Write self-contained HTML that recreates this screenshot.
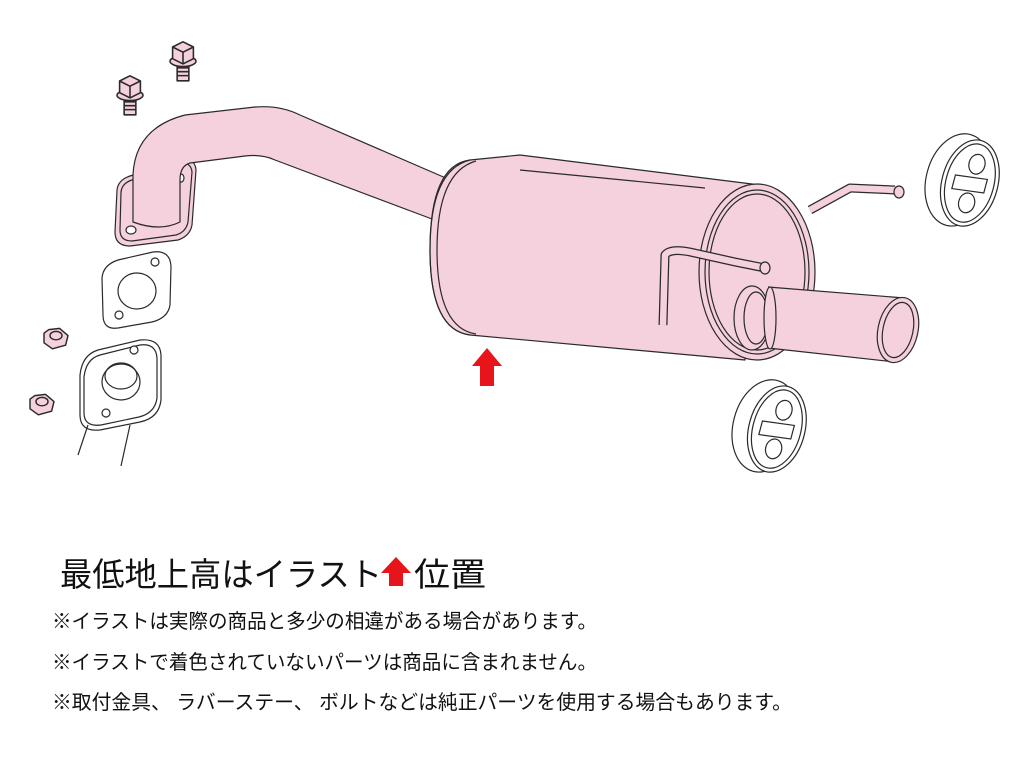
<!DOCTYPE html>
<html><head><meta charset="utf-8"><style>
html,body{margin:0;padding:0;background:#fff;width:1024px;height:768px;overflow:hidden}
svg{display:block}
text{font-family:"Liberation Sans","Noto Sans CJK JP",sans-serif;fill:#111}
</style></head><body>
<svg width="1024" height="768" viewBox="0 0 1024 768">
<g stroke="#2a2a2a" stroke-width="1.2" fill="#f5d0dd" stroke-linejoin="round">
<!-- bolts -->
<g transform="translate(183,60) scale(1.3)"><rect x="-4.5" y="2" width="9" height="14"/><path d="M-4.5,6h9M-4.5,9h9M-4.5,12h9" fill="none"/><ellipse cx="0" cy="1" rx="10" ry="4"/><path d="M-8,-10 L0,-14 L8,-10 L8,-1 L0,3 L-8,-1Z"/><path d="M-8,-10 L0,-6 L8,-10 M0,-6 L0,3" fill="none"/></g>
<g transform="translate(130,94) scale(1.3)"><rect x="-4.5" y="2" width="9" height="14"/><path d="M-4.5,6h9M-4.5,9h9M-4.5,12h9" fill="none"/><ellipse cx="0" cy="1" rx="10" ry="4"/><path d="M-8,-10 L0,-14 L8,-10 L8,-1 L0,3 L-8,-1Z"/><path d="M-8,-10 L0,-6 L8,-10 M0,-6 L0,3" fill="none"/></g>
<!-- nuts -->
<g transform="translate(56,338) scale(1.2)"><path d="M-10,-4 L-10,4 L-3,9 L8,6 L10,-2 L3,-8 L-6,-7Z"/><ellipse cx="0" cy="-2" rx="5" ry="3.5"/></g>
<g transform="translate(42,404) scale(1.2)"><path d="M-10,-4 L-10,4 L-3,9 L8,6 L10,-2 L3,-8 L-6,-7Z"/><ellipse cx="0" cy="-2" rx="5" ry="3.5"/></g>
<!-- flange -->
<path d="M117,190 Q118,180 130,176 L180,160 Q195,157 196,170 L192,225 Q190,236 178,240 L130,246 Q115,246 115,232Z"/>
<path d="M121,192 Q122,183 132,180 L178,164 Q191,161 192,172 L188,222 Q186,232 176,235 L132,241 Q120,241 120,230Z" fill="none"/>
<ellipse cx="131" cy="230" rx="5" ry="4" fill="#fff"/>
<ellipse cx="181" cy="178" rx="3" ry="4" fill="#fff"/>
<!-- pipe -->
<path d="M133,222 L133,175 Q135,128 185,115 L255,107 Q280,105 300,115 L455,182 L440,222 L275,160 Q262,154 245,156 L190,163 Q180,166 180,180 L180,222 Q160,232 133,222Z"/>
<!-- muffler body -->
<path d="M470,160 L520,155 L760,185 L745,360 L470,335 Q430,330 430,250 Q430,165 470,160Z"/>
<path d="M520,170 L705,188" fill="none"/>
<path d="M470,160 Q430,170 430,250 Q430,330 470,335" fill="none"/>
<path d="M476,161 Q437,172 437,250 Q437,328 476,334" fill="none"/>
<!-- rear hanger -->
<path d="M810,210 L850,188 L895,190" fill="none" stroke-width="9"/>
<path d="M810,210 L850,188 L895,190" fill="none" stroke="#f5d0dd" stroke-width="6.5"/>
<!-- end cap -->
<ellipse cx="757" cy="272" rx="58" ry="88"/>
<ellipse cx="757" cy="272" rx="52" ry="82" fill="none"/>
<ellipse cx="757" cy="272" rx="48" ry="78" fill="none"/>
<ellipse cx="899" cy="192" rx="5" ry="6"/>
<!-- front hanger on cap -->
<path d="M663,325 L665,255 Q670,248 690,252 L735,262 L765,268" fill="none" stroke-width="9"/>
<path d="M663,325 L665,255 Q670,248 690,252 L735,262 L765,268" fill="none" stroke="#f5d0dd" stroke-width="6.5"/>
<ellipse cx="765" cy="268" rx="5" ry="6"/>
<!-- tailpipe -->
<ellipse cx="752" cy="318" rx="18" ry="32"/>
<ellipse cx="756" cy="318" rx="12" ry="26"/>
<path d="M768,287 L905,298 L895,362 L768,348Z" stroke="none"/>
<path d="M768,287 L905,298 M768,348 L895,362" fill="none"/>
<ellipse cx="770" cy="318" rx="6" ry="31"/>
<ellipse cx="898" cy="330" rx="20" ry="33" transform="rotate(12 898 330)"/>
<ellipse cx="898" cy="330" rx="15" ry="28" transform="rotate(12 898 330)"/>
</g>
<!-- gaskets (uncolored) -->
<g stroke="#2a2a2a" stroke-width="1.2" fill="#fff">
<path d="M102,278 Q103,265 118,260 L153,252 Q170,250 171,266 L170,305 Q168,318 152,322 L118,328 Q103,330 103,315Z"/>
<ellipse cx="137" cy="291" rx="19" ry="18" fill="none"/>
<ellipse cx="155" cy="262" rx="4" ry="4"/><ellipse cx="119" cy="315" rx="4" ry="4"/>
<path d="M80,375 Q82,355 98,350 L140,340 Q160,338 161,355 L161,400 Q159,418 140,422 L100,430 Q80,432 80,415Z"/>
<path d="M84,377 Q86,359 100,355 L140,345 Q156,343 157,358 L157,398 Q155,413 139,417 L101,425 Q84,427 84,413Z" fill="none"/>
<ellipse cx="121" cy="382" rx="19" ry="18"/>
<ellipse cx="121" cy="376" rx="16" ry="13" fill="none"/>
<ellipse cx="134" cy="350" rx="4" ry="4"/><ellipse cx="106" cy="413" rx="4" ry="4"/>
<path d="M88,425 L78,455 M130,425 L121,466" fill="none"/>
<!-- rubber mounts -->
<g transform="translate(966,182) rotate(15)"><ellipse cx="-8" cy="0" rx="32" ry="47"/><ellipse cx="4" cy="0" rx="28" ry="44"/><ellipse cx="4" cy="0" rx="24" ry="40" fill="none"/><ellipse cx="6" cy="-20" rx="8" ry="10"/><ellipse cx="6" cy="20" rx="8" ry="10"/><path d="M-12,-4 L20,-8 L20,6 L-12,10Z"/></g>
<g transform="translate(773,428) rotate(15)"><ellipse cx="-8" cy="0" rx="32" ry="47"/><ellipse cx="4" cy="0" rx="28" ry="44"/><ellipse cx="4" cy="0" rx="24" ry="40" fill="none"/><ellipse cx="6" cy="-20" rx="8" ry="10"/><ellipse cx="6" cy="20" rx="8" ry="10"/><path d="M-12,-4 L20,-8 L20,6 L-12,10Z"/></g>
</g>
<!-- red arrows -->
<path d="M487,348 L502,366 L494,366 L494,386 L480,386 L480,366 L472,366Z" fill="#e8141c"/>
<!-- text -->
<text x="60" y="586" font-size="33" textLength="322" lengthAdjust="spacingAndGlyphs">最低地上高はイラスト</text>
<path d="M396,557 L411,573 L403,573 L403,586 L389,586 L389,573 L381,573Z" fill="#e8141c"/>
<text x="414" y="586" font-size="33" textLength="72" lengthAdjust="spacingAndGlyphs">位置</text>
<text x="52" y="628" font-size="20" textLength="545" lengthAdjust="spacingAndGlyphs">※イラストは実際の商品と多少の相違がある場合があります。</text>
<text x="52" y="669" font-size="20" textLength="545" lengthAdjust="spacingAndGlyphs">※イラストで着色されていないパーツは商品に含まれません。</text>
<text x="52" y="709" font-size="20" textLength="740" lengthAdjust="spacingAndGlyphs">※取付金具、 ラバーステー、 ボルトなどは純正パーツを使用する場合もあります。</text>
</svg>
</body></html>
